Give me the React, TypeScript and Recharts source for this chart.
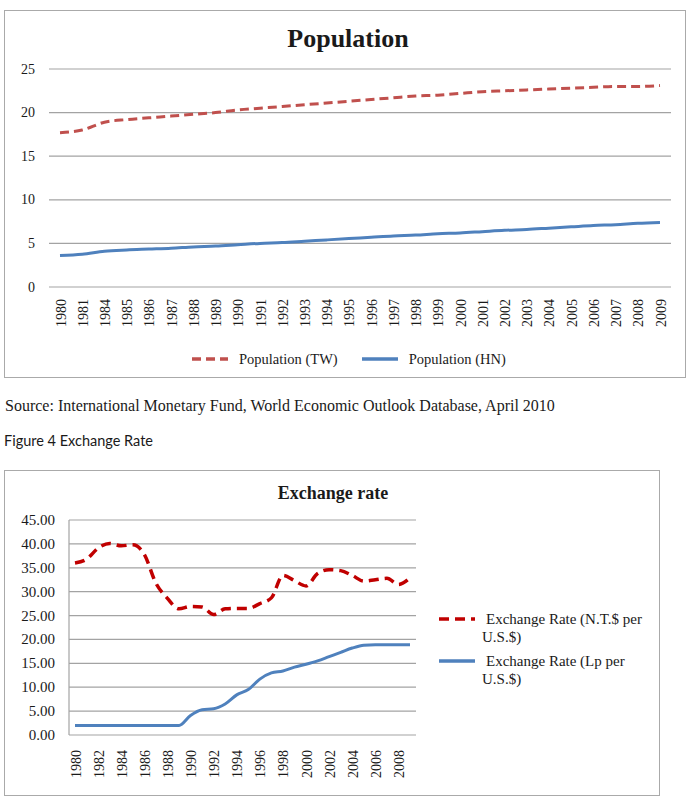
import React from "react";
import {
  LineChart,
  Line,
  XAxis,
  YAxis,
  CartesianGrid,
} from "recharts";

// Population (millions)
const popYears = [
  "1980", "1981", "1984", "1985", "1986", "1987", "1988", "1989", "1990", "1991",
  "1992", "1993", "1994", "1995", "1996", "1997", "1998", "1999", "2000", "2001",
  "2002", "2003", "2004", "2005", "2006", "2007", "2008", "2009",
];
const popTW = [
  17.7, 18.0, 18.9, 19.2, 19.4, 19.6, 19.8, 20.0, 20.3, 20.5,
  20.7, 20.9, 21.1, 21.3, 21.5, 21.7, 21.9, 22.0, 22.2, 22.4,
  22.5, 22.6, 22.7, 22.8, 22.9, 23.0, 23.0, 23.1,
];
const popHN = [
  3.6, 3.75, 4.1, 4.25, 4.35, 4.45, 4.6, 4.7, 4.85, 5.0,
  5.1, 5.25, 5.4, 5.55, 5.7, 5.85, 5.95, 6.1, 6.2, 6.35,
  6.5, 6.6, 6.75, 6.9, 7.05, 7.15, 7.3, 7.4,
];
const popTicks = [0, 5, 10, 15, 20, 25];

// Exchange rate (local currency per US$)
const fxYears = [
  "1980", "1981", "1982", "1983", "1984", "1985", "1986", "1987", "1988", "1989",
  "1990", "1991", "1992", "1993", "1994", "1995", "1996", "1997", "1998", "1999",
  "2000", "2001", "2002", "2003", "2004", "2005", "2006", "2007", "2008", "2009",
];
const fxNTD = [
  36.0, 36.8, 39.1, 40.1, 39.6, 39.8, 37.8, 31.8, 28.6, 26.4,
  26.9, 26.8, 25.2, 26.4, 26.5, 26.5, 27.5, 28.7, 33.4, 32.3,
  31.2, 33.8, 34.6, 34.4, 33.4, 32.2, 32.5, 32.8, 31.5, 32.9,
];
const fxLp = [
  2.0, 2.0, 2.0, 2.0, 2.0, 2.0, 2.0, 2.0, 2.0, 2.0,
  4.1, 5.3, 5.5, 6.5, 8.4, 9.5, 11.7, 13.0, 13.4, 14.2,
  14.8, 15.5, 16.4, 17.3, 18.2, 18.8, 18.9, 18.9, 18.9, 18.9,
];
const fxTicks = [0, 5, 10, 15, 20, 25, 30, 35, 40, 45];

const popData = popYears.map((year, i) => ({ year, tw: popTW[i], hn: popHN[i] }));
const fxData = fxYears.map((year, i) => ({ year, ntd: fxNTD[i], lp: fxLp[i] }));

const SERIF = '"Liberation Serif", "Times New Roman", serif';
const GRID = "#a3a3a3";
const TEXT = "#1a1a1a";

const popSeries = [
  { key: "tw", name: "Population (TW)", color: "#C0504D", dash: "9 5" },
  { key: "hn", name: "Population (HN)", color: "#4F81BD", dash: undefined },
];
const fxSeries = [
  { key: "ntd", name: "Exchange Rate (N.T.$ per U.S.$)", color: "#C00000", dash: "10 6" },
  { key: "lp", name: "Exchange Rate (Lp per U.S.$)", color: "#4F81BD", dash: undefined },
];

// rotated year label hanging below the axis
const YearTick = (props: any) => {
  const { x, y, payload, gap } = props;
  const ty = y + gap;
  return (
    <text
      x={x + 1}
      y={ty}
      transform={`rotate(-90, ${x + 1}, ${ty})`}
      textAnchor="end"
      dominantBaseline="central"
      fontFamily={SERIF}
      fontSize={14}
      fill={TEXT}
    >
      {payload.value}
    </text>
  );
};

// value label left of the plot
const ValueTick = (props: any) => {
  const { x, y, payload, size, digits } = props;
  const label = digits ? Number(payload.value).toFixed(digits) : String(payload.value);
  return (
    <text
      x={x}
      y={y}
      textAnchor="end"
      dominantBaseline="central"
      fontFamily={SERIF}
      fontSize={size}
      fill={TEXT}
    >
      {label}
    </text>
  );
};

const LegendLine = ({ color, dash }: { color: string; dash?: string }) => (
  <svg width={36} height={6} style={{ display: "block" }}>
    <line
      x1={0}
      y1={3}
      x2={36}
      y2={3}
      stroke={color}
      strokeWidth={3.5}
      strokeDasharray={dash}
    />
  </svg>
);

const boxStyle = (left: number, top: number, width: number, height: number): React.CSSProperties => ({
  position: "absolute",
  left,
  top,
  width,
  height,
  boxSizing: "border-box",
  border: "1px solid #aaaaaa",
  background: "#fff",
});

const App = () => {
  return (
    <div
      style={{
        position: "absolute",
        left: 0,
        top: 0,
        width: 688,
        height: 802,
        background: "#fff",
        fontFamily: SERIF,
        color: TEXT,
      }}
    >
      {/* Population chart */}
      <div style={boxStyle(4, 10, 682, 368)}>
        <div
          style={{
            position: "absolute",
            left: 0,
            width: 682,
            top: 13,
            textAlign: "center",
            fontWeight: "bold",
            fontSize: 26,
            lineHeight: "30px",
            paddingLeft: 2,
          }}
        >
          Population
        </div>
        <div style={{ position: "absolute", left: -1, top: -1 }}>
          <LineChart
            width={682}
            height={368}
            data={popData}
            margin={{ top: 59, right: 15, left: 0, bottom: 0 }}
          >
            <CartesianGrid vertical={false} stroke={GRID} strokeWidth={1.2} />
            <XAxis
              dataKey="year"
              height={91}
              axisLine={false}
              tickLine={false}
              tickSize={0}
              tickMargin={0}
              interval={0}
              padding={{ left: 11, right: 11 }}
              tick={(p: any) => <YearTick {...p} gap={12} />}
            />
            <YAxis
              width={45}
              domain={[0, 25]}
              ticks={popTicks}
              axisLine={false}
              tickLine={false}
              tickSize={0}
              tickMargin={14}
              tick={(p: any) => <ValueTick {...p} size={14} digits={0} />}
            />
            {popSeries.map((s) => (
              <Line
                key={s.key}
                type="monotone"
                dataKey={s.key}
                name={s.name}
                stroke={s.color}
                strokeWidth={3}
                strokeDasharray={s.dash}
                dot={false}
                isAnimationActive={false}
              />
            ))}
          </LineChart>
        </div>
        {/* legend */}
        <div
          style={{
            position: "absolute",
            left: 187,
            top: 338,
            display: "flex",
            alignItems: "center",
            fontSize: 14.5,
            lineHeight: "20px",
          }}
        >
          {popSeries.map((s, i) => (
            <div
              key={s.key}
              style={{ display: "flex", alignItems: "center", marginLeft: i === 0 ? 0 : 24 }}
            >
              <LegendLine color={s.color} dash={s.dash} />
              <span style={{ marginLeft: 11 }}>{s.name}</span>
            </div>
          ))}
        </div>
      </div>

      <div
        style={{
          position: "absolute",
          left: 5,
          top: 396,
          fontSize: 16,
          lineHeight: "20px",
          whiteSpace: "nowrap",
        }}
      >
        Source: International Monetary Fund, World Economic Outlook Database, April 2010
      </div>
      <div
        style={{
          position: "absolute",
          left: 4,
          top: 431,
          fontFamily: "Lato, sans-serif",
          fontSize: 14.5,
          lineHeight: "20px",
          whiteSpace: "nowrap",
        }}
      >
        Figure 4 Exchange Rate
      </div>

      {/* Exchange rate chart */}
      <div style={boxStyle(4, 470, 656, 326)}>
        <div
          style={{
            position: "absolute",
            left: 272,
            top: 11,
            width: 112,
            textAlign: "center",
            fontWeight: "bold",
            fontSize: 18,
            lineHeight: "22px",
            whiteSpace: "nowrap",
          }}
        >
          Exchange rate
        </div>
        <div style={{ position: "absolute", left: -1, top: -1 }}>
          <LineChart
            width={656}
            height={326}
            data={fxData}
            margin={{ top: 50, right: 244, left: 0, bottom: 0 }}
          >
            <CartesianGrid vertical={false} stroke={GRID} strokeWidth={1.2} />
            <XAxis
              dataKey="year"
              height={61}
              axisLine={false}
              tickLine={false}
              tickSize={0}
              tickMargin={0}
              interval={1}
              padding={{ left: 6, right: 6 }}
              tick={(p: any) => <YearTick {...p} gap={15} />}
            />
            <YAxis
              width={65}
              domain={[0, 45]}
              ticks={fxTicks}
              axisLine={{ stroke: GRID, strokeWidth: 1.2 }}
              tickLine={false}
              tickSize={0}
              tickMargin={14}
              tick={(p: any) => <ValueTick {...p} size={15} digits={2} />}
            />
            {fxSeries.map((s) => (
              <Line
                key={s.key}
                type="monotone"
                dataKey={s.key}
                name={s.name}
                stroke={s.color}
                strokeWidth={s.dash ? 3.5 : 3}
                strokeDasharray={s.dash}
                dot={false}
                isAnimationActive={false}
              />
            ))}
          </LineChart>
        </div>
        {/* legend */}
        <div style={{ position: "absolute", left: 434, top: 139, fontSize: 15, lineHeight: "18px" }}>
          {fxSeries.map((s, i) => (
            <div
              key={s.key}
              style={{ display: "flex", alignItems: "flex-start", marginTop: i === 0 ? 0 : 6 }}
            >
              <div style={{ marginTop: 6 }}>
                <LegendLine color={s.color} dash={s.dash} />
              </div>
              <div style={{ marginLeft: 7, width: 172, textIndent: 4 }}>{s.name}</div>
            </div>
          ))}
        </div>
      </div>
    </div>
  );
};

export default App;
